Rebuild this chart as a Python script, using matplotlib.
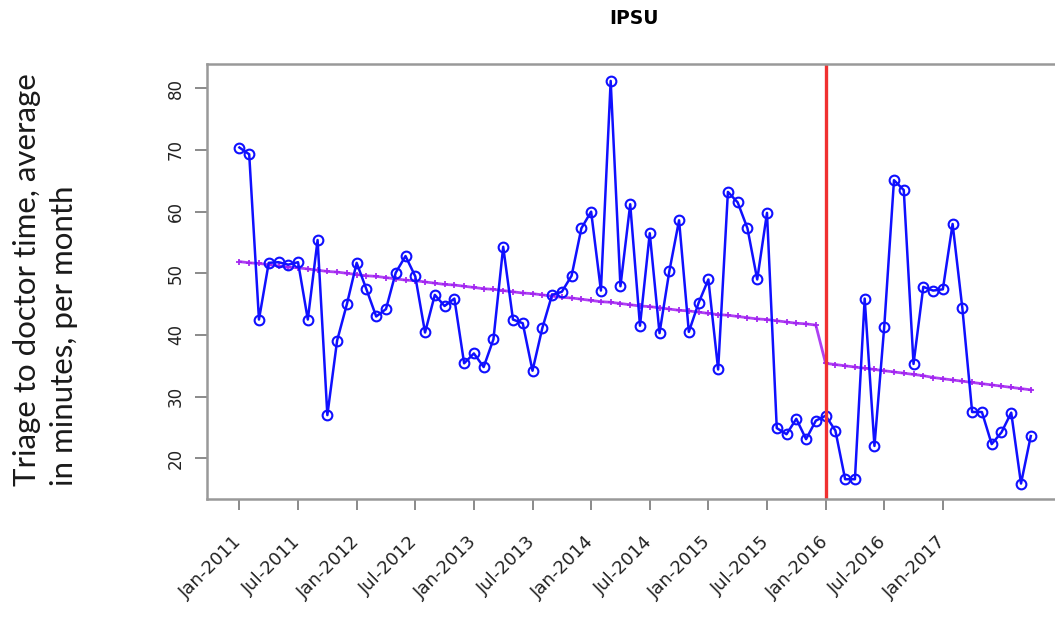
import numpy as np
import matplotlib
matplotlib.use("Agg")
import matplotlib.pyplot as plt

# monthly average triage-to-doctor time, Jan-2011 .. Oct-2017
triage_time = [70.4, 69.3, 42.5, 51.7, 51.8, 51.4, 51.8, 42.5, 55.4, 27.0,
               39.1, 45.0, 51.7, 47.4, 43.0, 44.2, 50.1, 52.8, 49.5, 40.4,
               46.5, 44.7, 45.9, 35.4, 37.0, 34.8, 39.3, 54.3, 42.5, 41.9,
               34.2, 41.1, 46.5, 47.0, 49.6, 57.3, 60.0, 47.2, 81.2, 47.9,
               61.2, 41.5, 56.5, 40.3, 50.3, 58.6, 40.5, 45.2, 49.0, 34.4,
               63.2, 61.5, 57.3, 49.0, 59.8, 24.9, 23.9, 26.4, 23.1, 26.1,
               26.9, 24.5, 16.6, 16.6, 45.9, 22.0, 41.3, 65.1, 63.5, 35.3,
               47.8, 47.2, 47.4, 58.0, 44.3, 27.5, 27.5, 22.3, 24.2, 27.4,
               15.9, 23.6]

# fitted trend (before / after the intervention)
trend_pre = [51.9, 51.7, 51.6, 51.4, 51.2, 51.0, 50.9, 50.7, 50.5, 50.3,
             50.2, 50.0, 49.8, 49.6, 49.5, 49.3, 49.1, 48.9, 48.8, 48.6,
             48.4, 48.2, 48.1, 47.9, 47.7, 47.5, 47.4, 47.2, 47.0, 46.8,
             46.7, 46.5, 46.3, 46.1, 46.0, 45.8, 45.6, 45.4, 45.3, 45.1,
             44.9, 44.7, 44.6, 44.4, 44.2, 44.0, 43.9, 43.7, 43.5, 43.3,
             43.2, 43.0, 42.8, 42.6, 42.5, 42.3, 42.1, 41.9, 41.8, 41.6]
trend_post = [35.4, 35.2, 35.0, 34.8, 34.6, 34.4, 34.2, 34.0, 33.8, 33.6,
              33.4, 33.1, 32.9, 32.7, 32.5, 32.3, 32.1, 31.9, 31.7, 31.5,
              31.3, 31.1]

tick_labels = ["Jan-2011", "Jul-2011", "Jan-2012", "Jul-2012", "Jan-2013",
               "Jul-2013", "Jan-2014", "Jul-2014", "Jan-2015", "Jul-2015",
               "Jan-2016", "Jul-2016", "Jan-2017"]
intervention_month = 60  # Jan-2016

months = np.arange(len(triage_time))
trend = trend_pre + trend_post

fig = plt.figure(figsize=(10.55, 6.21), dpi=100)
ax = fig.add_axes([0.1962, 0.1965, 0.81, 0.7004])

ax.plot(months, trend, color='#a020f0', lw=2, marker='P', ms=4.5, mew=0, alpha=0.85)
ax.plot(months, triage_time, color='#1010ff', lw=1.8, marker='o', ms=7,
        mfc='none', mec='#1010ff', mew=1.5)
ax.axvline(intervention_month, color='#f03030', lw=2.4)

ax.set_xlim(-3.32, 84.15)
ax.set_ylim(13.4, 83.94)

ax.set_xticks(range(0, 73, 6))
ax.set_xticklabels(tick_labels, rotation=45, ha='right', va='center',
                   rotation_mode='anchor', fontsize=13, color='#222222')
ax.set_yticks(range(20, 81, 10))
for lab in ax.get_yticklabels():
    lab.set_rotation(90)
    lab.set_va('center')
    lab.set_fontsize(12)
    lab.set_color('#222222')

ax.tick_params(axis='x', length=8, width=1.2, color='#777777', pad=21)
ax.tick_params(axis='y', length=9, width=1.2, color='#777777', pad=7)

ax.spines['right'].set_visible(False)
for s in ['left', 'top', 'bottom']:
    ax.spines[s].set_color('#999999')
    ax.spines[s].set_linewidth(1.8)

fig.text(0.601, 1 - 18 / 621, 'IPSU', ha='center', va='center',
         fontsize=13.5, fontweight='bold')
fig.text(0.043, 1 - 280 / 621, 'Triage to doctor time, average\nin minutes, per month',
         rotation=90, ha='center', va='center', multialignment='left',
         family='Lato', fontsize=22.5, linespacing=1.4, color='#1a1a1a')

fig.savefig('out.png', dpi=100)
